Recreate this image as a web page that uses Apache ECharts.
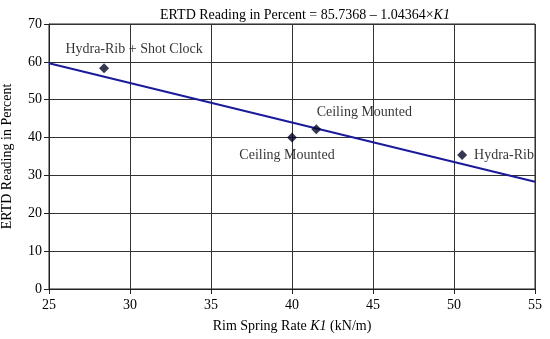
<!DOCTYPE html>
<html><head><meta charset="utf-8">
<script src="https://cdn.jsdelivr.net/npm/echarts@6/dist/echarts.min.js"></script>
<style>html,body{margin:0;padding:0;background:#fff}#c{width:550px;height:339px}</style>
</head><body><div id="c"></div>
<script>
const pointNames = ['Hydra-Rib + Shot Clock', 'Ceiling Mounted', 'Ceiling Mounted', 'Hydra-Rib'];
const pointK1 = [28.4, 40.0, 41.5, 50.5];
const pointERTD = [58.3, 40.0, 42.2, 35.4];
const fitIntercept = 85.7368;
const fitSlope = -1.04364;
const fitX = [25, 55];
const xTicks = [25, 30, 35, 40, 45, 50, 55];
const yTicks = [0, 10, 20, 30, 40, 50, 60, 70];

const labelPos = [
  {position: 'top', offset: [30, -2]},
  {position: 'bottom', offset: [-5, 1]},
  {position: 'top', offset: [48, 0]},
  {position: 'right', offset: [2, 0]}
];
const font = 'Liberation Serif';
const fs = 14;
const scatterData = pointK1.map((x, i) => ({
  value: [x, pointERTD[i]],
  label: Object.assign({show: true, formatter: pointNames[i], fontFamily: font, fontSize: fs, color: '#000', textBorderWidth: 0}, labelPos[i])
}));
const lineData = fitX.map(x => [x, fitIntercept + fitSlope * x]);

const chart = echarts.init(document.getElementById('c'));
chart.setOption({
  animation: false,
  backgroundColor: '#fff',
  title: {
    text: '{n|ERTD Reading in Percent = 85.7368 – 1.04364×}{i|K1}',
    left: 300, top: 3, textAlign: 'center',
    textStyle: {fontWeight: 'normal', rich: {
      n: {fontFamily: font, fontSize: fs, color: '#000', fontWeight: 'normal'},
      i: {fontFamily: font, fontSize: fs, fontStyle: 'italic', color: '#000', fontWeight: 'normal'}
    }}
  },
  grid: {left: 49, right: 15, top: 24, bottom: 50, show: true, borderColor: '#222', borderWidth: 1,
    containLabel: false, outerBoundsMode: 'none'},
  xAxis: {
    type: 'value', min: 25, max: 55, interval: 5,
    name: '{n|Rim Spring Rate }{i|K1}{n| (kN/m)}', nameLocation: 'middle', nameGap: 30,
    nameTextStyle: {rich: {
      n: {fontFamily: font, fontSize: fs, color: '#000'},
      i: {fontFamily: font, fontSize: fs, fontStyle: 'italic', color: '#000'}
    }},
    axisLine: {lineStyle: {color: '#222'}},
    axisTick: {show: true, length: 5, lineStyle: {color: '#222'}},
    axisLabel: {fontFamily: font, fontSize: fs, color: '#000', margin: 9,
      formatter: v => xTicks.includes(v) ? String(v) : ''},
    splitLine: {show: true, lineStyle: {color: '#333', width: 1}}
  },
  yAxis: {
    type: 'value', min: 0, max: 70, interval: 10,
    name: 'ERTD Reading in Percent', nameLocation: 'middle', nameGap: 35,
    nameTextStyle: {fontFamily: font, fontSize: fs, color: '#000'},
    axisLine: {show: true, lineStyle: {color: '#222'}},
    axisTick: {show: true, length: 5, lineStyle: {color: '#222'}},
    axisLabel: {fontFamily: font, fontSize: fs, color: '#000', margin: 7,
      formatter: v => yTicks.includes(v) ? String(v) : ''},
    splitLine: {show: true, lineStyle: {color: '#333', width: 1}}
  },
  series: [
    {type: 'line', data: lineData, symbol: 'none', lineStyle: {color: '#1a1a9a', width: 2}, z: 3},
    {type: 'scatter', data: scatterData, symbol: 'diamond', symbolSize: 10, itemStyle: {color: '#050528'}, z: 4}
  ]
});
</script></body></html>
